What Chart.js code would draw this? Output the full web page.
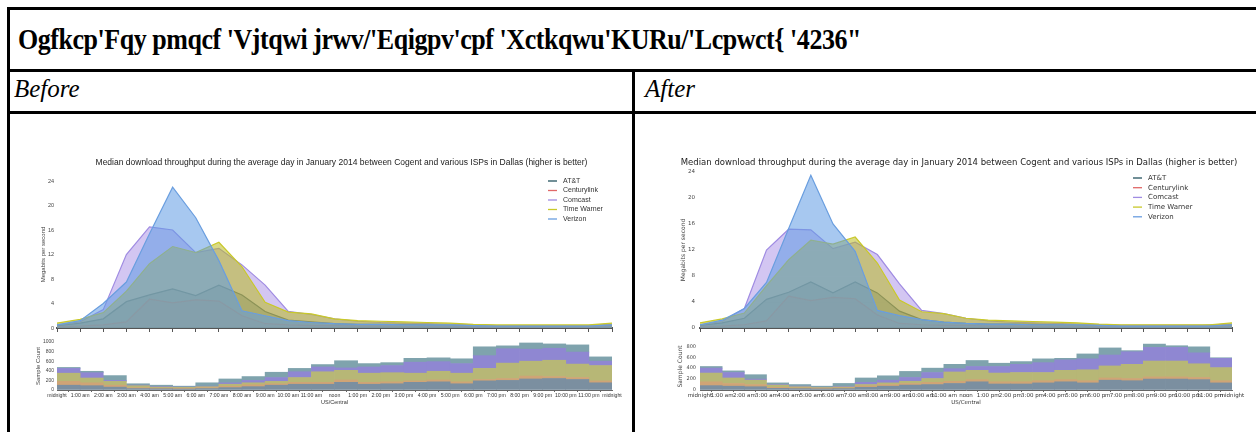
<!DOCTYPE html>
<html><head><meta charset="utf-8">
<script src="https://cdn.jsdelivr.net/npm/chart.js@4.4.1/dist/chart.umd.min.js"></script>
<style>
html,body{margin:0;padding:0;background:#fff;width:1256px;height:432px;overflow:hidden;position:relative}
.ln{position:absolute;background:#000}
.txt{position:absolute;font-family:"Liberation Serif",serif;color:#000;white-space:nowrap;line-height:1}
canvas{position:absolute}
</style></head><body>
<div class="ln" style="left:7px;top:7px;width:1249px;height:3px"></div>
<div class="ln" style="left:7px;top:7px;width:3px;height:425px"></div>
<div class="ln" style="left:7px;top:69px;width:1249px;height:3px"></div>
<div class="ln" style="left:7px;top:111px;width:1249px;height:3px"></div>
<div class="ln" style="left:632px;top:69px;width:3px;height:363px"></div>
<div class="txt" style="left:18px;top:25px;font-weight:bold;font-size:29px;letter-spacing:-0.5px;transform:scaleX(0.895);transform-origin:0 0">Ogfkcp'Fqy pmqcf 'Vjtqwi jrwv/'Eqigpv'cpf 'Xctkqwu'KURu/'Lcpwct{ '4236"</div>
<div class="txt" style="left:14px;top:76px;font-style:italic;font-size:25px">Before</div>
<div class="txt" style="left:645px;top:76px;font-style:italic;font-size:25px">After</div>
<canvas id="bTop" width="612" height="190" style="left:20px;top:148px"></canvas>
<canvas id="bBot" width="612" height="70" style="left:20px;top:336px"></canvas>
<canvas id="aTop" width="596" height="190" style="left:660px;top:148px"></canvas>
<canvas id="aBot" width="596" height="70" style="left:660px;top:336px"></canvas>
<script>
const hours = ['midnight','1:00 am','2:00 am','3:00 am','4:00 am','5:00 am','6:00 am','7:00 am','8:00 am','9:00 am','10:00 am','11:00 am','noon','1:00 pm','2:00 pm','3:00 pm','4:00 pm','5:00 pm','6:00 pm','7:00 pm','8:00 pm','9:00 pm','10:00 pm','11:00 pm','midnight'];
const isps = ['AT&T','Centurylink','Comcast','Time Warner','Verizon'];
const chartTitle = 'Median download throughput during the average day in January 2014 between Cogent and various ISPs in Dallas (higher is better)';

// Before: median throughput (Mbps), hourly, midnight..midnight
const beforeATT     = [0.4,0.8,1.5,4.3,5.4,6.4,5.3,7.0,5.4,2.7,1.3,1.0,0.7,0.6,0.6,0.6,0.5,0.5,0.4,0.3,0.3,0.3,0.3,0.4,0.5];
const beforeCentury = [0.2,0.3,0.5,1.0,4.7,4.1,4.6,4.4,2.0,0.7,0.5,0.4,0.4,0.3,0.3,0.3,0.3,0.3,0.2,0.2,0.2,0.2,0.2,0.2,0.3];
const beforeComcast = [0.5,1.0,3.0,12.0,16.5,16.0,12.3,13.0,10.3,7.0,2.7,2.2,1.5,1.1,0.9,0.8,0.7,0.6,0.5,0.4,0.4,0.4,0.4,0.4,0.6];
const beforeTW      = [0.8,1.4,2.5,6.0,10.5,13.3,12.3,14.0,10.0,4.2,2.6,2.3,1.5,1.2,1.1,1.0,0.9,0.8,0.6,0.5,0.5,0.5,0.5,0.5,0.8];
const beforeVerizon = [0.5,1.2,4.0,7.5,15.4,23.0,18.0,11.0,2.8,2.0,1.2,0.9,0.7,0.6,0.6,0.5,0.5,0.5,0.4,0.3,0.3,0.3,0.3,0.3,0.5];

// After
const afterATT     = [0.4,0.8,1.5,4.4,5.5,7.1,5.4,7.1,5.4,2.6,1.3,0.9,0.7,0.6,0.6,0.6,0.5,0.5,0.4,0.3,0.3,0.3,0.3,0.4,0.5];
const afterCentury = [0.2,0.3,0.5,1.1,4.9,4.2,4.7,4.5,2.0,0.7,0.5,0.4,0.4,0.3,0.3,0.3,0.3,0.3,0.2,0.2,0.2,0.2,0.2,0.2,0.3];
const afterComcast = [0.5,1.0,3.0,12.0,15.2,15.1,12.2,13.2,11.3,6.8,2.7,2.2,1.5,1.1,0.9,0.8,0.7,0.6,0.5,0.4,0.4,0.4,0.4,0.4,0.6];
const afterTW      = [0.8,1.4,2.3,6.5,10.5,13.5,12.9,14.0,10.0,4.3,2.5,2.2,1.5,1.2,1.1,1.0,0.9,0.8,0.6,0.5,0.5,0.5,0.5,0.5,0.8];
const afterVerizon = [0.5,1.2,3.0,7.0,15.3,23.5,16.0,11.8,2.7,1.9,1.3,0.9,0.7,0.6,0.6,0.5,0.5,0.5,0.4,0.3,0.3,0.3,0.3,0.3,0.5];

// Sample counts per hour bin (24 bins), stacked
const beforeCntATT     = [100,90,60,30,25,20,30,50,70,100,120,120,160,120,130,160,170,130,190,200,230,240,220,150];
const beforeCntCentury = [80,60,40,20,15,20,20,30,40,30,40,40,50,40,40,30,40,40,30,40,60,40,40,40];
const beforeCntTW      = [170,100,80,40,20,15,20,40,40,50,100,220,200,190,190,160,180,180,230,320,310,340,280,320];
const beforeCntComcast = [100,110,20,10,10,5,10,30,50,80,120,100,50,130,150,230,200,200,265,300,250,250,250,90];
const beforeCntVerizon = [20,30,100,30,30,20,70,80,80,110,70,50,150,70,60,80,80,100,185,60,130,90,150,90];

const afterCntATT     = [80,70,60,30,25,20,25,50,70,90,100,120,150,110,110,130,150,130,180,170,200,200,190,130];
const afterCntCentury = [70,50,40,20,15,15,15,25,30,30,40,40,40,40,40,40,40,40,40,40,40,40,40,40];
const afterCntTW      = [160,100,80,40,20,10,15,25,30,40,70,170,170,160,170,150,170,200,220,260,290,290,250,240];
const afterCntComcast = [90,100,20,10,10,5,10,40,50,70,110,60,70,120,150,180,190,200,200,230,250,250,200,170];
const afterCntVerizon = [30,30,80,30,30,20,55,80,80,110,80,80,110,60,50,70,30,90,130,20,60,30,110,10];

const lineColors = ['#24535f','#e06868','#a08ce2','#c9c92a','#6a9edf'];
const fillColors = ['rgba(40,90,105,0.45)','rgba(225,110,110,0.25)','rgba(150,120,225,0.42)','rgba(185,185,35,0.55)','rgba(95,155,228,0.55)'];
const histColors = ['#7b8fa0','#cfa476','#b7b776','#8f87d2','#7fa3ad'];

const decorPlugin = {
  id:'decor',
  afterDraw(chart, args, o){
    if(!o || !o.show) return;
    const ctx = chart.ctx, a = chart.chartArea;
    ctx.save();
    // title centred over the axes
    ctx.font = o.titleFont; ctx.fillStyle = '#222'; ctx.textAlign = 'center'; ctx.textBaseline = 'middle';
    ctx.fillText(o.title, (a.left + a.right)/2 + o.titleDx, a.top + o.titleDy);
    // legend
    ctx.font = o.font; ctx.textAlign = 'left';
    chart.data.datasets.forEach((ds,i)=>{
      const y = a.top + o.top + i*o.spacing;
      const x = a.right - o.right;
      ctx.strokeStyle = ds.borderColor; ctx.lineWidth = 1.3;
      ctx.beginPath(); ctx.moveTo(x,y); ctx.lineTo(x+o.lineLen,y); ctx.stroke();
      ctx.fillStyle = o.color; ctx.fillText(ds.label, x+o.lineLen+o.gap, y);
    });
    ctx.restore();
  }
};

function topChart(id, series, cfg){
  const datasets = series.map((d,i)=>({
    label: isps[i], data: d, borderColor: lineColors[i], backgroundColor: fillColors[i],
    fill: 'origin', borderWidth: 1.2, pointRadius: 0, tension: 0, order: 4-i
  }));
  return new Chart(document.getElementById(id), {
    type:'line',
    data:{labels:hours, datasets},
    plugins:[decorPlugin],
    options:{
      responsive:false, animation:false, devicePixelRatio:1,
      layout:{padding:{left:cfg.padLeft,right:cfg.padRight,top:cfg.padTop,bottom:0}},
      plugins:{
        legend:{display:false}, tooltip:{enabled:false}, title:{display:false},
        decor:{show:true, title:chartTitle, titleFont:cfg.titleSize+'px '+cfg.font, titleDx:cfg.titleDx, titleDy:cfg.titleDy,
               font:cfg.legendSize+'px '+cfg.font, color:'#333', top:cfg.legTop, spacing:cfg.legSpacing, right:cfg.legRight, lineLen:9, gap:6}
      },
      scales:{
        x:{ type:'category', offset:false,
            afterFit(s){ s.height = 10; },
            border:{display:true,color:'#555',width:2},
            grid:{display:true, drawOnChartArea:false, drawTicks:true, tickLength:4, color:'#555'},
            ticks:{callback:()=> '', autoSkip:false, maxRotation:0} },
        y:{ min:0, max:24, z: cfg.gridOver?1:0,
            afterFit(s){ s.width = cfg.yWidth; },
            border:{display:false},
            grid:{display:cfg.gridOver, drawTicks:false, color:'rgba(255,255,255,0.45)'},
            ticks:{stepSize:4, autoSkip:false, color:'#444', padding:cfg.tickPad, font:{family:cfg.font,size:5.5}},
            title:{display:true, text:'Megabits per second', color:'#444', font:{family:cfg.font,size:6}, padding:{top:0,bottom:0}} }
      }
    }
  });
}

function botChart(id, series, cfg){
  const datasets = series.map((d,i)=>({
    label: isps[i], data: d.map((v,k)=>({x:k+0.5,y:v})), backgroundColor: histColors[i],
    borderWidth:0, barPercentage:1, categoryPercentage:1
  }));
  return new Chart(document.getElementById(id), {
    type:'bar',
    data:{datasets},
    options:{
      responsive:false, animation:false, devicePixelRatio:1,
      layout:{padding:{left:cfg.padLeft,right:cfg.padRight,top:cfg.padTop,bottom:0}},
      plugins:{legend:{display:false}, tooltip:{enabled:false}},
      scales:{
        x:{ type:'linear', min:0, max:24, stacked:true, offset:false,
            afterBuildTicks(s){ s.ticks = hours.map((h,i)=>({value:i})); },
            afterFit(s){ s.height = cfg.xHeight; },
            border:{display:true,color:'#666',width:1},
            grid:{display:true, drawOnChartArea:false, drawTicks:true, tickLength:2, color:'#666'},
            ticks:{autoSkip:false, maxRotation:0, padding:0, color:'#333', font:{family:cfg.font,size:cfg.xSize}, callback:(v)=>hours[v]},
            title:{display:true, text:'US/Central', color:'#333', font:{family:cfg.font,size:5.5}, padding:{top:0,bottom:0}} },
        y:{ min:0, max:cfg.ymax, stacked:true, z:1,
            afterFit(s){ s.width = cfg.yWidth; },
            afterBuildTicks(s){ const t=[]; for(let v=0; v<=cfg.ymax; v+=200) t.push({value:v}); s.ticks=t; },
            border:{display:false},
            grid:{display:true, drawTicks:false, color:'rgba(255,255,255,0.35)'},
            ticks:{autoSkip:false, color:'#444', padding:cfg.tickPad, font:{family:cfg.font,size:5}, callback:(v)=>String(v)},
            title:{display:true, text:'Sample Count', color:'#444', font:{family:cfg.font,size:6}, padding:{top:0,bottom:0}} }
      }
    }
  });
}

topChart('bTop', [beforeATT,beforeCentury,beforeComcast,beforeTW,beforeVerizon],
  {font:'"Liberation Sans"', titleSize:8.5, titleDx:7, titleDy:-18, padLeft:20, padTop:33, padRight:20, yWidth:17, tickPad:3, gridOver:false,
   legendSize:7, legTop:0, legSpacing:9.5, legRight:64});
botChart('bBot', [beforeCntATT,beforeCntCentury,beforeCntTW,beforeCntComcast,beforeCntVerizon],
  {font:'"Liberation Sans"', padLeft:15, padRight:20, padTop:5, yWidth:22, tickPad:3, xHeight:16, xSize:5.2, ymax:1000});
topChart('aTop', [afterATT,afterCentury,afterComcast,afterTW,afterVerizon],
  {font:'"DejaVu Sans"', titleSize:8.5, titleDx:-7, titleDy:-9, padLeft:20, padTop:24, padRight:24, yWidth:20, tickPad:5, gridOver:true,
   legendSize:7, legTop:6, legSpacing:9.7, legRight:99});
botChart('aBot', [afterCntATT,afterCntCentury,afterCntTW,afterCntComcast,afterCntVerizon],
  {font:'"DejaVu Sans"', padLeft:17, padRight:24, padTop:5, yWidth:23, tickPad:4, xHeight:16, xSize:5.5, ymax:860});
</script>
</body></html>
